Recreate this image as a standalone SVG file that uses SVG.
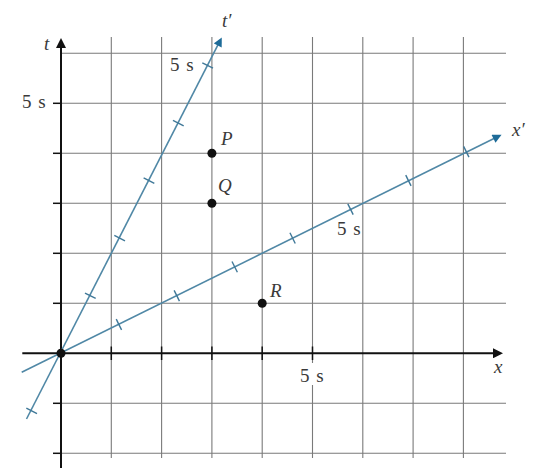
<svg xmlns="http://www.w3.org/2000/svg" width="539" height="476" viewBox="0 0 539 476">
<style>
.grid line{stroke:#7a7a7a;stroke-width:1.1}
.axis{stroke:#111;stroke-width:2;fill:none}
.tick{stroke:#111;stroke-width:1.5}
.prime{stroke:#5088a6;stroke-width:1.6;fill:none}
.ptick{stroke:#3f7898;stroke-width:1.4}
.lbl{font-family:"Liberation Serif","Times New Roman",serif;font-size:19px;fill:#3a3a3a}
.n{letter-spacing:1px}
.it{font-style:italic}
.dot{fill:#111}
</style>
<defs>
<marker id="ab" viewBox="0 0 10 10" refX="5" refY="5" markerWidth="11" markerHeight="10" markerUnits="userSpaceOnUse" orient="auto"><path d="M0,0 L10,5 L0,10 z" fill="#111"/></marker>
<marker id="ap" viewBox="0 0 10 10" refX="5" refY="5" markerWidth="11" markerHeight="9" markerUnits="userSpaceOnUse" orient="auto"><path d="M0,0 L10,5 L0,10 z" fill="#1d6b98"/></marker>
</defs>
<rect width="539" height="476" fill="#fff"/>
<g id="grid" class="grid">
<line x1="111.3" y1="37" x2="111.3" y2="458"/>
<line x1="161.6" y1="37" x2="161.6" y2="458"/>
<line x1="211.9" y1="37" x2="211.9" y2="458"/>
<line x1="262.2" y1="37" x2="262.2" y2="458"/>
<line x1="312.5" y1="37" x2="312.5" y2="458"/>
<line x1="362.8" y1="37" x2="362.8" y2="458"/>
<line x1="413.1" y1="37" x2="413.1" y2="458"/>
<line x1="463.4" y1="37" x2="463.4" y2="458"/>
<line x1="61" y1="53.3" x2="506" y2="53.3"/>
<line x1="61" y1="103.3" x2="506" y2="103.3"/>
<line x1="61" y1="153.3" x2="506" y2="153.3"/>
<line x1="61" y1="203.3" x2="506" y2="203.3"/>
<line x1="61" y1="253.3" x2="506" y2="253.3"/>
<line x1="61" y1="303.3" x2="506" y2="303.3"/>
<line x1="61" y1="403.3" x2="506" y2="403.3"/>
<line x1="61" y1="453.3" x2="506" y2="453.3"/>
</g>
<g id="axes">
<line class="axis" x1="61" y1="468" x2="61" y2="43" marker-end="url(#ab)"/>
<line class="axis" x1="22.3" y1="353.3" x2="498" y2="353.3" marker-end="url(#ab)"/>
<line class="tick" x1="53" y1="103.3" x2="61" y2="103.3"/>
<line class="tick" x1="53" y1="153.3" x2="61" y2="153.3"/>
<line class="tick" x1="53" y1="203.3" x2="61" y2="203.3"/>
<line class="tick" x1="53" y1="253.3" x2="61" y2="253.3"/>
<line class="tick" x1="53" y1="303.3" x2="61" y2="303.3"/>
<line class="tick" x1="53" y1="403.3" x2="61" y2="403.3"/>
<line class="tick" x1="53" y1="453.3" x2="61" y2="453.3"/>
<line class="tick" x1="111.3" y1="346.5" x2="111.3" y2="360"/>
<line class="tick" x1="161.6" y1="346.5" x2="161.6" y2="360"/>
<line class="tick" x1="211.9" y1="346.5" x2="211.9" y2="360"/>
<line class="tick" x1="262.2" y1="346.5" x2="262.2" y2="360"/>
<line class="tick" x1="312.5" y1="346.5" x2="312.5" y2="360"/>
</g>
<g id="connectors">
<line id="tprime" class="prime" x1="26.5" y1="419" x2="219.73" y2="41.46" marker-end="url(#ap)"/>
<line id="xprime" class="prime" x1="21.7" y1="372.3" x2="497.52" y2="136.72" marker-end="url(#ap)"/>
<line class="ptick" x1="26.32" y1="408.14" x2="37.02" y2="413.58"/>
<line class="ptick" x1="84.98" y1="293.02" x2="95.68" y2="298.46"/>
<line class="ptick" x1="114.31" y1="235.46" x2="125.01" y2="240.9"/>
<line class="ptick" x1="143.64" y1="177.9" x2="154.34" y2="183.34"/>
<line class="ptick" x1="172.97" y1="120.34" x2="183.67" y2="125.78"/>
<line class="ptick" x1="202.3" y1="62.78" x2="213" y2="68.22"/>
<line class="ptick" x1="116.23" y1="319.13" x2="121.57" y2="329.87"/>
<line class="ptick" x1="174.13" y1="290.33" x2="179.47" y2="301.07"/>
<line class="ptick" x1="232.03" y1="261.53" x2="237.37" y2="272.27"/>
<line class="ptick" x1="289.93" y1="232.73" x2="295.27" y2="243.47"/>
<line class="ptick" x1="347.83" y1="203.93" x2="353.17" y2="214.67"/>
<line class="ptick" x1="405.73" y1="175.13" x2="411.07" y2="185.87"/>
<line class="ptick" x1="463.63" y1="146.33" x2="468.97" y2="157.07"/>
</g>
<g id="O"><circle class="dot" cx="61" cy="353.3" r="4.5"/></g>
<g id="P"><circle class="dot" cx="211.9" cy="153.3" r="4.5"/><text class="lbl it" x="221" y="145">P</text></g>
<g id="Q"><circle class="dot" cx="211.9" cy="203.3" r="4.5"/><text class="lbl it" x="218" y="192">Q</text></g>
<g id="R"><circle class="dot" cx="262.2" cy="303.3" r="4.5"/><text class="lbl it" x="270" y="297">R</text></g>
<g id="labels">
<text class="lbl it" x="44" y="50">t</text>
<text class="lbl it" x="222" y="27">t′</text>
<text class="lbl it" x="494" y="373">x</text>
<text class="lbl it" x="512" y="136">x′</text>
<text class="lbl n" x="22" y="108">5 s</text>
<text class="lbl n" x="170" y="71">5 s</text>
<text class="lbl n" x="337" y="235">5 s</text>
<rect x="299" y="363" width="28" height="22" fill="#fff"/>
<text class="lbl n" x="300" y="382">5 s</text>
</g>
</svg>
